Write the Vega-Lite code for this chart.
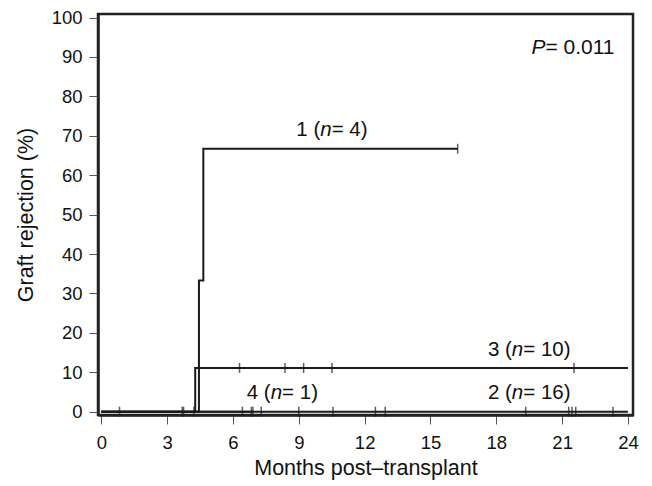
{
  "$schema": "https://vega.github.io/schema/vega-lite/v6.json",
  "autosize": "none",
  "width": 535,
  "height": 401,
  "padding": {"left": 98, "top": 14, "right": 19, "bottom": 71},
  "background": "white",
  "config": {
    "font": "Liberation Sans",
    "view": {"stroke": "#222", "strokeWidth": 2.5},
    "axis": {
      "grid": false,
      "domainColor": "#222",
      "domainWidth": 2.5,
      "tickColor": "#555",
      "tickWidth": 1,
      "tickSize": 9,
      "labelFont": "Liberation Sans",
      "labelFontSize": 18.5,
      "labelColor": "#111",
      "titleFont": "Liberation Sans",
      "titleFontSize": 21.5,
      "titleFontWeight": "normal",
      "titleColor": "#111"
    }
  },
  "datasets": {
    "curves": [
      {"group": "1", "month": 0, "pct": 0},
      {"group": "1", "month": 4.45, "pct": 33.3},
      {"group": "1", "month": 4.65, "pct": 66.7},
      {"group": "1", "month": 16.24, "pct": 66.7},
      {"group": "3", "month": 0, "pct": 0},
      {"group": "3", "month": 4.28, "pct": 11.1},
      {"group": "3", "month": 24, "pct": 11.1},
      {"group": "2", "month": 0, "pct": 0},
      {"group": "2", "month": 24, "pct": 0},
      {"group": "4", "month": 0, "pct": 0},
      {"group": "4", "month": 6.9, "pct": 0}
    ],
    "censors": [
      {"group": "1", "month": 16.24, "pct": 66.7},
      {"group": "3", "month": 6.3, "pct": 11.1},
      {"group": "3", "month": 8.37, "pct": 11.1},
      {"group": "3", "month": 9.22, "pct": 11.1},
      {"group": "3", "month": 10.51, "pct": 11.1},
      {"group": "3", "month": 21.54, "pct": 11.1},
      {"group": "2", "month": 0.83, "pct": 0},
      {"group": "2", "month": 3.69, "pct": 0},
      {"group": "2", "month": 3.75, "pct": 0},
      {"group": "2", "month": 4.22, "pct": 0},
      {"group": "2", "month": 6.43, "pct": 0},
      {"group": "2", "month": 6.84, "pct": 0},
      {"group": "4", "month": 6.91, "pct": 0},
      {"group": "2", "month": 7.29, "pct": 0},
      {"group": "2", "month": 9.0, "pct": 0},
      {"group": "2", "month": 10.56, "pct": 0},
      {"group": "2", "month": 12.49, "pct": 0},
      {"group": "2", "month": 12.94, "pct": 0},
      {"group": "2", "month": 19.34, "pct": 0},
      {"group": "2", "month": 21.3, "pct": 0},
      {"group": "2", "month": 21.45, "pct": 0},
      {"group": "2", "month": 21.62, "pct": 0},
      {"group": "2", "month": 23.32, "pct": 0}
    ],
    "nlabels": [
      {"pre": "1 (", "ital": "n", "suf": "= 4)", "month": 9.98, "pct": 71.5},
      {"pre": "3 (", "ital": "n", "suf": "= 10)", "month": 18.71, "pct": 15.6},
      {"pre": "2 (", "ital": "n", "suf": "= 16)", "month": 18.71, "pct": 4.7},
      {"pre": "4 (", "ital": "n", "suf": "= 1)", "month": 7.72, "pct": 4.7}
    ],
    "plabel": [
      {"ital": "P", "suf": "= 0.011", "month": 19.6, "pct": 92.2}
    ]
  },
  "encoding": {
    "x": {
      "field": "month",
      "type": "quantitative",
      "scale": {"domain": [-0.15, 24.23], "nice": false, "zero": false},
      "axis": {
        "title": "Months post–transplant",
        "values": [0, 3, 6, 9, 12, 15, 18, 21, 24],
        "format": "d",
        "labelPadding": 9,
        "titlePadding": 6
      }
    },
    "y": {
      "field": "pct",
      "type": "quantitative",
      "scale": {"domain": [-0.84, 100.89], "nice": false, "zero": false},
      "axis": {
        "title": "Graft rejection (%)",
        "values": [0, 10, 20, 30, 40, 50, 60, 70, 80, 90, 100],
        "format": "d",
        "labelPadding": 7,
        "titlePadding": 14
      }
    }
  },
  "layer": [
    {
      "data": {"name": "curves"},
      "mark": {"type": "line", "interpolate": "step-after", "color": "#1a1a1a", "strokeWidth": 2},
      "encoding": {"detail": {"field": "group", "type": "nominal"}}
    },
    {
      "data": {"name": "censors"},
      "mark": {"type": "tick", "orient": "vertical", "size": 10, "thickness": 1.5, "color": "#1a1a1a"}
    },
    {
      "data": {"name": "nlabels"},
      "mark": {"type": "text", "align": "right", "baseline": "middle", "fontSize": 20.5, "color": "#111"},
      "encoding": {"text": {"field": "pre"}}
    },
    {
      "data": {"name": "nlabels"},
      "mark": {"type": "text", "align": "left", "baseline": "middle", "fontSize": 20.5, "fontStyle": "italic", "color": "#111"},
      "encoding": {"text": {"field": "ital"}}
    },
    {
      "data": {"name": "nlabels"},
      "mark": {"type": "text", "align": "left", "baseline": "middle", "fontSize": 20.5, "dx": 11.4, "color": "#111"},
      "encoding": {"text": {"field": "suf"}}
    },
    {
      "data": {"name": "plabel"},
      "mark": {"type": "text", "align": "left", "baseline": "middle", "fontSize": 21, "fontStyle": "italic", "color": "#111"},
      "encoding": {"text": {"field": "ital"}}
    },
    {
      "data": {"name": "plabel"},
      "mark": {"type": "text", "align": "left", "baseline": "middle", "fontSize": 21, "dx": 14, "color": "#111"},
      "encoding": {"text": {"field": "suf"}}
    }
  ]
}
